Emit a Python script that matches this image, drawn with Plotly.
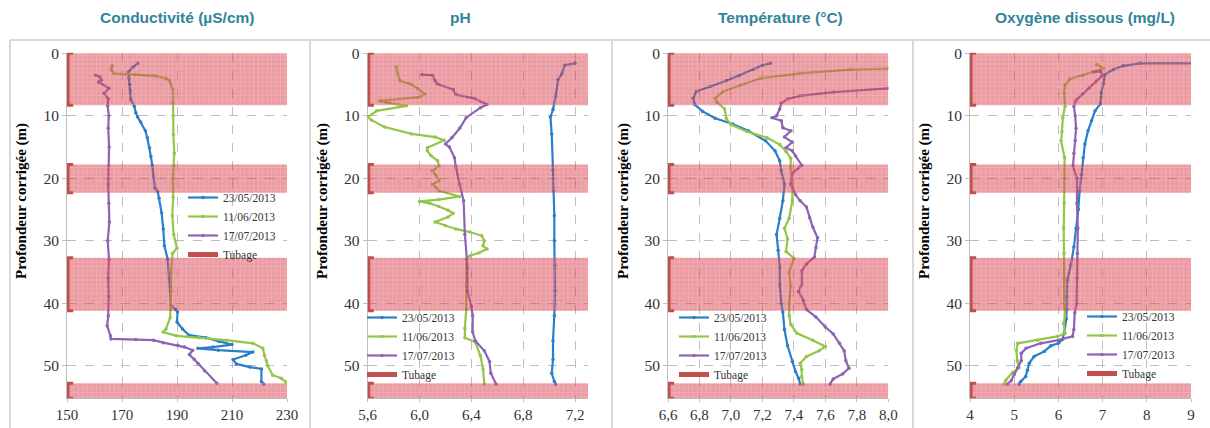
import plotly.graph_objects as go

W, H = 1210, 428

# ---------------- DATA ----------------
SERIES_NAMES = ["23/05/2013", "11/06/2013", "17/07/2013"]
TUBAGE_NAME = "Tubage"
PANEL_TITLES = ["Conductivité (µS/cm)", "pH", "Température (°C)", "Oxygène dissous (mg/L)"]
Y_TITLE = "Profondeur corrigée (m)"

# casing (tubage) depth intervals, m
BAND_TOP = [0.0, 17.8, 32.7, 52.8]
BAND_BOTTOM = [8.3, 22.3, 41.2, 55.2]

Y_TICKS = [0, 10, 20, 30, 40, 50]

# Conductivity
COND_D1 = [1.6, 2.2, 3.0, 4.0, 5.0, 6.0, 7.4, 8.5, 9.5, 10.2, 11.0, 12.4, 13.5, 15.1, 16.5, 17.9, 19.8, 21.6, 22.1, 23.2, 25.5, 28.1, 30.8, 32.9, 36.1, 40.3, 41.0, 41.4, 43.0, 44.1, 45.1, 45.5, 46.1, 46.6, 47.0, 47.2, 47.5, 47.8, 48.3, 49.0, 49.7, 50.2, 50.5, 52.5, 52.9]
COND_V1 = [175.7, 174.0, 172.3, 172.5, 172.8, 173.0, 173.2, 174.5, 175.0, 175.7, 176.8, 178.5, 179.2, 180.0, 180.5, 181.0, 181.5, 182.0, 183.0, 183.5, 184.4, 185.0, 185.4, 186.6, 187.2, 187.8, 189.5, 190.2, 190.0, 192.0, 194.4, 200.5, 205.3, 210.0, 203.0, 197.6, 205.0, 217.6, 215.0, 210.4, 211.6, 216.5, 220.7, 220.7, 221.5]
COND_D2 = [2.0, 2.5, 3.2, 3.4, 3.6, 4.0, 4.4, 5.8, 8.0, 10.0, 13.0, 16.0, 18.0, 20.0, 23.0, 26.0, 29.0, 31.2, 32.0, 35.0, 38.0, 41.0, 42.3, 44.1, 44.6, 45.2, 45.5, 45.9, 46.4, 47.2, 48.3, 49.2, 50.0, 51.5, 52.0, 52.6]
COND_V2 = [166.5, 166.0, 167.0, 175.0, 182.0, 186.0, 187.3, 188.5, 188.5, 188.6, 188.7, 189.0, 188.8, 188.5, 188.6, 188.3, 188.8, 190.0, 188.4, 187.9, 187.9, 187.8, 187.5, 186.0, 185.0, 189.8, 198.0, 207.8, 217.6, 221.2, 221.8, 222.5, 223.0, 224.8, 227.9, 229.6]
COND_D3 = [3.5, 3.8, 4.3, 4.6, 5.6, 6.4, 7.3, 8.4, 10.0, 12.0, 15.0, 18.0, 21.0, 24.0, 27.0, 30.0, 33.0, 36.0, 39.0, 42.0, 43.6, 45.2, 45.7, 45.8, 45.9, 46.3, 46.7, 47.0, 47.5, 48.2, 49.0, 49.6, 50.8, 52.8]
COND_V3 = [160.5, 162.0, 162.4, 161.5, 165.3, 163.5, 165.0, 164.8, 165.2, 165.0, 165.3, 165.2, 165.0, 165.2, 165.4, 164.8, 165.3, 165.0, 165.2, 165.0, 164.6, 165.8, 166.0, 175.0, 181.5, 185.0, 190.3, 192.7, 195.7, 194.5, 196.3, 197.6, 200.0, 204.5]

# pH
PH_D1 = [1.6, 1.9, 3.2, 4.2, 6.8, 9.0, 10.2, 12.9, 18.7, 22.0, 26.0, 30.0, 34.0, 38.0, 42.0, 46.0, 49.0, 51.2, 52.5, 52.9]
PH_V1 = [7.20, 7.12, 7.10, 7.07, 7.05, 7.03, 7.01, 7.02, 7.03, 7.035, 7.04, 7.04, 7.045, 7.045, 7.04, 7.03, 7.03, 7.02, 7.04, 7.05]
PH_D2 = [2.2, 3.2, 4.4, 4.9, 5.7, 6.5, 7.0, 7.6, 7.9, 8.4, 9.2, 10.2, 10.7, 11.8, 12.9, 13.4, 13.9, 15.1, 15.6, 16.4, 17.2, 18.0, 18.8, 19.6, 20.4, 21.0, 21.5, 22.0, 22.9, 23.4, 23.7, 24.0, 24.5, 25.1, 25.6, 26.2, 27.0, 27.6, 28.1, 28.6, 29.2, 30.0, 30.8, 31.3, 31.9, 32.4, 32.9, 37.0, 41.0, 44.0, 45.5, 46.2, 48.4, 50.5, 52.9]
PH_V2 = [5.82, 5.83, 5.85, 5.93, 5.99, 6.04, 6.00, 5.69, 5.75, 5.90, 5.67, 5.60, 5.63, 5.73, 5.94, 6.12, 6.19, 6.06, 6.06, 6.09, 6.14, 6.15, 6.10, 6.13, 6.15, 6.10, 6.13, 6.15, 6.31, 6.15, 6.00, 6.08, 6.15, 6.22, 6.26, 6.22, 6.12, 6.20, 6.28, 6.39, 6.48, 6.50, 6.49, 6.52, 6.46, 6.39, 6.36, 6.36, 6.36, 6.35, 6.35, 6.43, 6.47, 6.49, 6.50]
PH_D3 = [3.4, 3.5, 4.4, 4.9, 5.8, 6.6, 7.2, 8.2, 8.7, 10.3, 12.0, 13.5, 14.5, 15.0, 16.7, 18.2, 21.0, 23.6, 29.0, 34.2, 38.0, 40.5, 42.0, 44.6, 46.0, 47.6, 49.3, 51.2, 52.9]
PH_V3 = [6.02, 6.10, 6.12, 6.14, 6.26, 6.28, 6.42, 6.52, 6.47, 6.36, 6.31, 6.25, 6.20, 6.23, 6.27, 6.28, 6.31, 6.34, 6.35, 6.37, 6.37, 6.40, 6.41, 6.41, 6.43, 6.50, 6.54, 6.55, 6.59]

# Temperature
TEMP_D1 = [1.6, 1.9, 2.6, 3.6, 4.4, 5.3, 6.1, 7.2, 8.2, 9.3, 10.4, 11.3, 12.4, 14.0, 15.6, 17.2, 18.8, 21.0, 23.6, 26.4, 29.0, 31.5, 34.2, 37.0, 40.0, 41.4, 44.2, 46.8, 49.3, 50.9, 52.0, 52.9]
TEMP_V1 = [7.25, 7.20, 7.14, 7.05, 6.97, 6.87, 6.78, 6.76, 6.77, 6.82, 6.90, 7.01, 7.11, 7.22, 7.28, 7.31, 7.32, 7.34, 7.33, 7.31, 7.29, 7.30, 7.31, 7.31, 7.32, 7.33, 7.34, 7.36, 7.39, 7.41, 7.43, 7.44]
TEMP_D2 = [2.3, 2.4, 2.6, 3.2, 4.0, 5.1, 6.1, 7.2, 7.8, 8.9, 10.4, 11.4, 12.5, 13.5, 14.6, 15.7, 16.8, 18.2, 21.0, 23.6, 26.4, 28.0, 29.7, 31.7, 32.8, 35.0, 37.2, 40.0, 42.0, 43.4, 44.8, 45.9, 46.9, 47.6, 48.5, 49.6, 50.6, 51.7, 52.9]
TEMP_V2 = [8.20, 8.00, 7.76, 7.44, 7.19, 7.06, 6.95, 6.90, 6.91, 6.96, 6.97, 7.00, 7.10, 7.23, 7.31, 7.35, 7.38, 7.38, 7.39, 7.39, 7.37, 7.34, 7.36, 7.35, 7.40, 7.37, 7.38, 7.37, 7.37, 7.38, 7.42, 7.52, 7.60, 7.56, 7.48, 7.44, 7.45, 7.45, 7.46]
TEMP_D3 = [5.4, 5.6, 6.2, 6.8, 7.3, 8.0, 8.9, 10.0, 10.3, 10.8, 11.9, 12.4, 13.4, 14.2, 15.1, 15.6, 16.4, 17.9, 19.2, 21.0, 22.6, 23.6, 24.6, 26.3, 27.8, 29.5, 31.1, 32.6, 33.7, 34.8, 37.0, 38.1, 39.5, 41.0, 42.2, 43.8, 44.9, 46.4, 47.6, 49.2, 50.4, 51.3, 52.1, 52.9]
TEMP_V3 = [8.20, 8.00, 7.65, 7.44, 7.36, 7.32, 7.31, 7.29, 7.26, 7.32, 7.33, 7.38, 7.34, 7.39, 7.35, 7.39, 7.41, 7.45, 7.39, 7.38, 7.41, 7.44, 7.48, 7.50, 7.52, 7.55, 7.54, 7.53, 7.48, 7.45, 7.45, 7.43, 7.46, 7.48, 7.54, 7.60, 7.65, 7.69, 7.72, 7.73, 7.75, 7.71, 7.65, 7.63]

# Dissolved oxygen
O2_D1 = [1.6, 1.6, 2.0, 2.6, 3.4, 4.8, 6.3, 8.1, 9.2, 10.8, 12.4, 14.5, 16.7, 19.4, 22.0, 25.0, 28.0, 31.0, 34.0, 36.3, 39.0, 41.0, 42.5, 44.8, 45.8, 46.4, 46.8, 47.7, 48.5, 49.6, 50.7, 51.7, 52.5, 52.9]
O2_V1 = [9.20, 7.85, 7.47, 7.24, 7.05, 7.02, 6.97, 6.95, 6.83, 6.75, 6.67, 6.60, 6.56, 6.52, 6.48, 6.45, 6.40, 6.35, 6.28, 6.20, 6.19, 6.19, 6.18, 6.13, 6.09, 6.00, 5.83, 5.68, 5.45, 5.34, 5.30, 5.26, 5.15, 5.11]
O2_D2 = [1.8, 2.4, 2.6, 3.5, 4.1, 5.1, 6.3, 8.5, 10.3, 12.5, 14.0, 16.7, 20.0, 24.0, 28.0, 32.0, 36.0, 40.0, 42.0, 43.2, 44.8, 45.3, 45.9, 46.4, 47.6, 49.2, 50.3, 51.1, 52.3, 52.9]
O2_V2 = [6.87, 7.02, 6.95, 6.56, 6.26, 6.15, 6.13, 6.15, 6.10, 6.08, 6.06, 6.14, 6.14, 6.13, 6.12, 6.13, 6.13, 6.13, 6.15, 6.12, 6.15, 5.98, 5.53, 5.08, 5.05, 5.07, 5.11, 4.96, 4.81, 4.77]
O2_D3 = [3.0, 2.9, 3.5, 4.5, 5.5, 6.5, 7.5, 8.5, 10.0, 12.0, 14.0, 16.0, 18.0, 20.0, 24.0, 28.0, 32.0, 36.0, 40.0, 41.5, 44.2, 45.3, 45.9, 46.4, 47.2, 48.0, 49.2, 50.3, 51.4, 52.4, 52.9]
O2_V3 = [6.80, 6.95, 7.00, 6.85, 6.70, 6.55, 6.40, 6.35, 6.38, 6.40, 6.38, 6.35, 6.33, 6.42, 6.42, 6.44, 6.43, 6.42, 6.41, 6.37, 6.35, 6.32, 6.00, 5.60, 5.27, 5.16, 5.16, 5.08, 5.00, 4.93, 4.85]

# axis ranges and ticks
X_RANGES = [[150, 230], [5.6, 7.3], [6.6, 8.0], [4, 9]]
X_TICKVALS = [
    [150, 170, 190, 210, 230],
    [5.6, 6.0, 6.4, 6.8, 7.2],
    [6.6, 6.8, 7.0, 7.2, 7.4, 7.6, 7.8, 8.0],
    [4, 5, 6, 7, 8, 9],
]
X_TICKTEXT = [
    ["150", "170", "190", "210", "230"],
    ["5,6", "6,0", "6,4", "6,8", "7,2"],
    ["6,6", "6,8", "7,0", "7,2", "7,4", "7,6", "7,8", "8,0"],
    ["4", "5", "6", "7", "8", "9"],
]

PANELS = [
    [(COND_D1, COND_V1), (COND_D2, COND_V2), (COND_D3, COND_V3)],
    [(PH_D1, PH_V1), (PH_D2, PH_V2), (PH_D3, PH_V3)],
    [(TEMP_D1, TEMP_V1), (TEMP_D2, TEMP_V2), (TEMP_D3, TEMP_V3)],
    [(O2_D1, O2_V1), (O2_D2, O2_V2), (O2_D3, O2_V3)],
]

# ---------------- STYLE ----------------
COLORS = ["#2a7fca", "#93c64a", "#8d63b5"]
TUBAGE_COLOR = "#c0504d"
TITLE_COLOR = "#31849b"
GRID_COLOR = "#bfbfbf"
SERIF = "Liberation Serif, Times New Roman, serif"
SANS = "Liberation Sans, Arial, sans-serif"

PX_X = [(67, 287), (367.7, 588), (668, 888.3), (970, 1191)]
PX_Y = (52.7, 398.3)
LEGEND_POS = [(183, 226), (362, 346), (674, 346), (1082, 345)]
TITLE_X = [177, 460, 780, 1085]
YTITLE_X = [21, 322, 623, 924]
BORDER_X = [10, 310, 612, 913]

fig = go.Figure()

for p in range(4):
    sfx = "" if p == 0 else str(p + 1)
    xa, ya = "x" + sfx, "y" + sfx
    leg = "legend" + sfx
    for s, (d, v) in enumerate(PANELS[p]):
        fig.add_trace(go.Scatter(
            x=v, y=d, xaxis=xa, yaxis=ya, name=SERIES_NAMES[s], legend=leg,
            mode="lines+markers", line=dict(color=COLORS[s], width=2.2),
            marker=dict(size=3.5, color=COLORS[s]), hoverinfo="skip"))
    xmin, xmax = X_RANGES[p]
    # casing bands (drawn on top, semi-transparent with grid pattern)
    for t, b in zip(BAND_TOP, BAND_BOTTOM):
        fig.add_trace(go.Scatter(
            x=[xmin, xmax, xmax, xmin, xmin], y=[t, t, b, b, t], xaxis=xa, yaxis=ya,
            mode="lines", line=dict(width=0), fill="toself",
            fillcolor="rgba(215,55,70,0.5)",
            fillpattern=dict(shape="+", bgcolor="rgba(215,55,70,0.5)",
                             fgcolor="rgba(255,255,255,0.55)", size=4.5, solidity=0.22),
            showlegend=False, hoverinfo="skip"))
    # bracket marks at the left of each band
    span = xmax - xmin
    bx, by = [], []
    for t, b in zip(BAND_TOP, BAND_BOTTOM):
        bx += [xmin + span * 0.028, xmin + span * 0.005, xmin + span * 0.005, xmin + span * 0.028, None]
        by += [t, t, b, b, None]
    fig.add_trace(go.Scatter(x=bx, y=by, xaxis=xa, yaxis=ya, mode="lines",
                             line=dict(color=TUBAGE_COLOR, width=3), showlegend=False,
                             hoverinfo="skip"))
    # legend entry for casing
    fig.add_trace(go.Scatter(x=[None], y=[None], xaxis=xa, yaxis=ya, mode="lines",
                             name=TUBAGE_NAME, legend=leg,
                             line=dict(color=TUBAGE_COLOR, width=5)))

layout = dict(
    width=W, height=H, margin=dict(l=0, r=0, t=0, b=0, autoexpand=False),
    paper_bgcolor="white", plot_bgcolor="white", showlegend=True,
)
annotations = []
shapes = []
for p in range(4):
    sfx = "" if p == 0 else str(p + 1)
    x0, x1 = PX_X[p]
    layout["xaxis" + sfx] = dict(
        domain=[x0 / W, x1 / W], range=X_RANGES[p], anchor="y" + sfx,
        tickvals=X_TICKVALS[p], ticktext=X_TICKTEXT[p],
        showgrid=True, gridcolor=GRID_COLOR, griddash="dash", gridwidth=1,
        showline=True, linecolor=GRID_COLOR, linewidth=1, zeroline=False,
        ticks="outside", ticklen=3, tickcolor=GRID_COLOR, layer="below traces",
        tickfont=dict(family=SERIF, size=15, color="#333333"), fixedrange=True)
    layout["yaxis" + sfx] = dict(
        domain=[1 - PX_Y[1] / H, 1 - PX_Y[0] / H], range=[BAND_BOTTOM[-1], -0.1],
        anchor="x" + sfx, tickvals=Y_TICKS,
        showgrid=True, gridcolor=GRID_COLOR, griddash="dash", gridwidth=1,
        showline=True, linecolor=GRID_COLOR, linewidth=1, zeroline=False,
        ticks="outside", ticklen=4, tickcolor=GRID_COLOR, layer="below traces",
        tickfont=dict(family=SERIF, size=15.5, color="#333333"), fixedrange=True)
    lx, ly = LEGEND_POS[p]
    layout["legend" + sfx] = dict(
        x=lx / W, y=1 - ly / H, xanchor="left", yanchor="middle",
        bgcolor="rgba(0,0,0,0)", borderwidth=0,
        font=dict(family=SERIF, size=11.5, color="#333333"), tracegroupgap=0)
    annotations.append(dict(text="<b>" + PANEL_TITLES[p] + "</b>", x=TITLE_X[p] / W, y=1 - 17 / H,
                            xref="paper", yref="paper", showarrow=False,
                            xanchor="center", yanchor="middle",
                            font=dict(family=SANS, size=15.5, color=TITLE_COLOR)))
    annotations.append(dict(text="<b>" + Y_TITLE + "</b>", x=YTITLE_X[p] / W, y=1 - 201 / H,
                            xref="paper", yref="paper", showarrow=False, textangle=-90,
                            xanchor="center", yanchor="middle",
                            font=dict(family=SERIF, size=15, color="#000000")))
    shapes.append(dict(type="line", xref="paper", yref="paper",
                       x0=BORDER_X[p] / W, x1=BORDER_X[p] / W, y0=0, y1=1 - 40 / H,
                       line=dict(color="#d9d9d9", width=2)))
shapes.append(dict(type="line", xref="paper", yref="paper", x0=10 / W, x1=1, y0=1 - 40 / H, y1=1 - 40 / H,
                   line=dict(color="#d9d9d9", width=2)))
layout["annotations"] = annotations
layout["shapes"] = shapes
fig.update_layout(**layout)

fig.write_html("out.html", config={"displayModeBar": False},
               post_script="document.body.style.margin='0px';document.body.style.overflow='hidden';")
